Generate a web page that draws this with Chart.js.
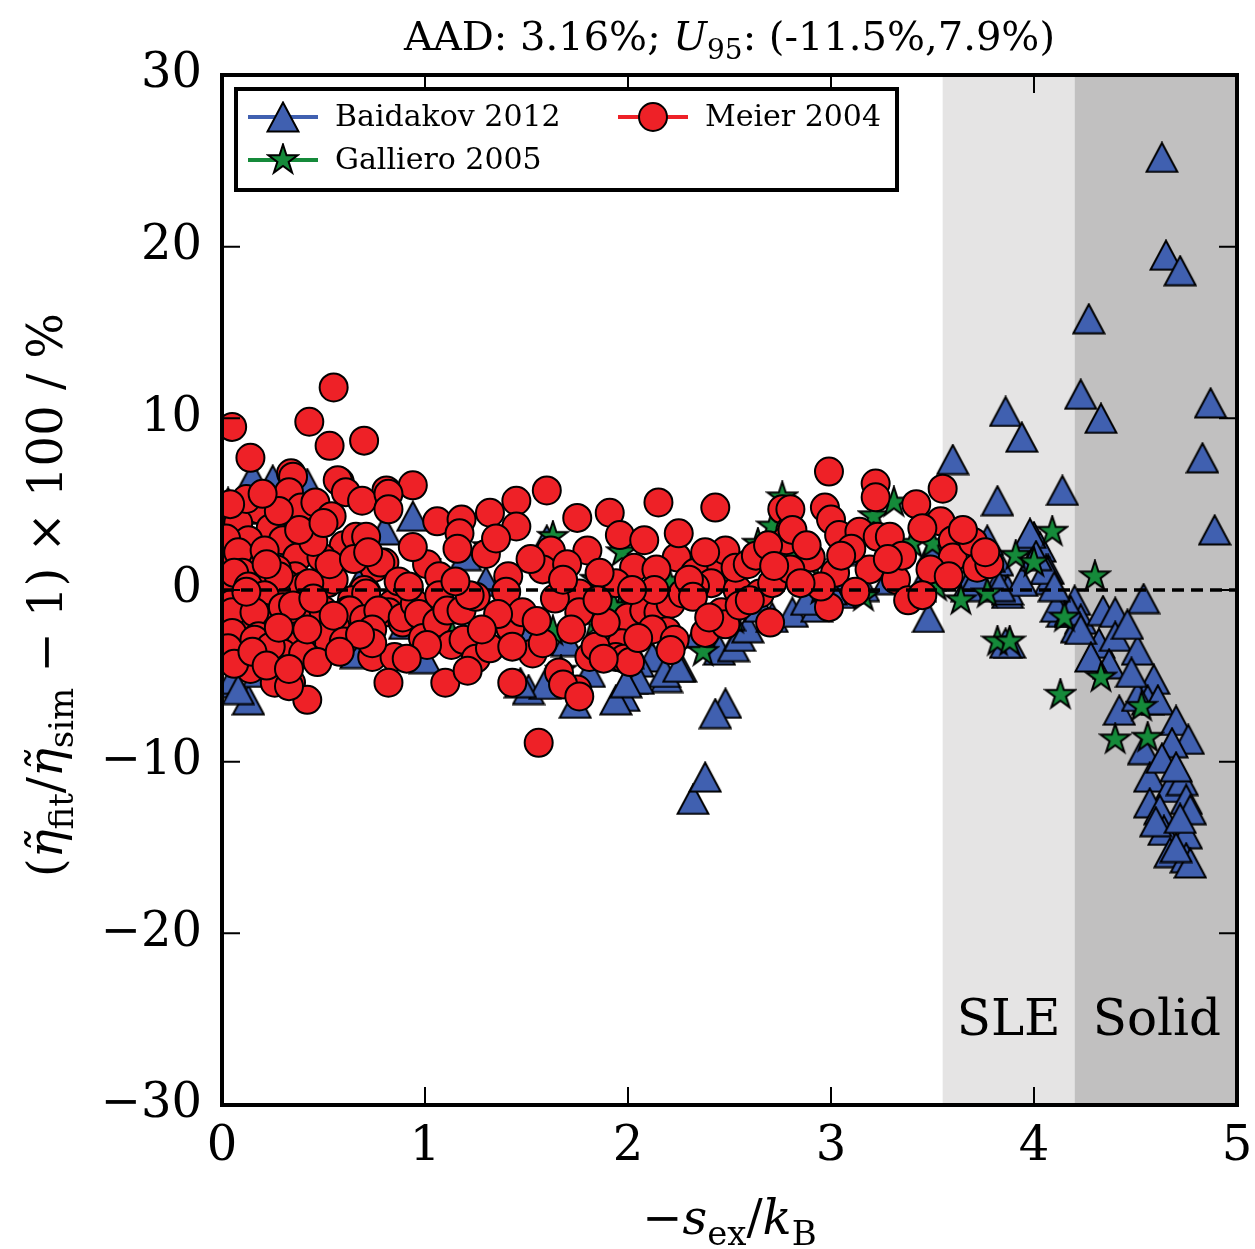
<!DOCTYPE html>
<html>
<head>
<meta charset="utf-8">
<script src="https://cdn.jsdelivr.net/npm/chart.js@4.4.0/dist/chart.umd.min.js"></script>
<style>
  html, body { margin: 0; padding: 0; background: #fff; }
  canvas { display: block; }
</style>
</head>
<body>
<canvas id="chart" width="1255" height="1249"></canvas>
<script>
const FONT = '"DejaVu Serif", "Liberation Serif", serif';

const xTicks = [0, 1, 2, 3, 4, 5];
const yTicks = [-30, -20, -10, 0, 10, 20, 30];

// shaded phase regions [from, to]
const sleRange = [3.55, 4.2];
const solidRange = [4.2, 5.0];

const seriesNames = ["Baidakov 2012", "Galliero 2005", "Meier 2004"];
const seriesColors = ["#4060b0", "#158a3a", "#ee2127"];

const baidakov = [
  [4.63, 25.2], [4.65, 19.5], [4.72, 18.6], [4.27, 15.8], [4.23, 11.4], [4.33, 10.0],
  [4.87, 10.9], [4.83, 7.7], [4.89, 3.5], [3.86, 10.4], [3.94, 8.9], [3.60, 7.6],
  [3.82, 5.2], [4.14, 5.8], [4.54, -0.5],
  [4.20, -0.6], [4.14, -1.3], [4.23, -1.7], [4.34, -1.2], [4.40, -1.3], [4.32, -3.1],
  [4.40, -2.7], [4.51, -3.5], [4.37, -4.3], [4.59, -5.2], [4.42, -7.0], [4.56, -6.4],
  [4.51, -6.2], [4.61, -6.4], [4.70, -7.6], [4.76, -8.7], [4.68, -8.9], [4.54, -9.3],
  [4.57, -10.9], [4.67, -11.5], [4.73, -11.1], [4.75, -12.2], [4.57, -12.4], [4.62, -12.8],
  [4.77, -12.8], [4.64, -14.0], [4.75, -14.2], [4.67, -15.3], [4.75, -15.6], [4.77, -15.9],
  [4.70, -15.0], [4.46, -2.0], [4.48, -4.8], [4.63, -9.8], [4.70, -10.3], [4.60, -13.5],
  [4.72, -13.3],
  [4.00, 3.1], [3.97, 2.9], [4.03, 2.5], [4.07, 1.2], [4.08, 0.6], [4.11, -1.0],
  [4.18, -1.3], [4.21, -2.2], [3.83, 0.6], [3.87, -0.2], [3.88, -3.1], [3.82, 1.7],
  [3.77, 2.9], [3.98, 3.3], [4.06, 1.2], [3.87, 0.0], [3.67, 0.2], [3.48, -1.6],
  [3.86, -3.1], [4.18, -1.2], [4.23, -2.3], [4.28, -3.9], [4.10, 0.2], [3.94, 0.5],
  [3.72, 0.8], [4.01, 2.0],
  [2.48, -6.6], [2.43, -7.2], [2.32, -12.2], [2.38, -10.9], [1.98, -6.2], [2.02, -5.2],
  [2.19, -5.1], [2.26, -4.5], [2.45, -3.5], [2.52, -3.3], [2.55, -2.7], [2.59, -2.2],
  [2.71, -1.6], [2.81, -1.3], [2.93, -1.0], [3.04, -0.2], [3.16, 0.2], [3.28, 0.6],
  [3.44, 0.2], [3.49, 0.8], [3.11, 2.3], [3.50, 2.3], [3.78, 1.9], [3.83, 0.2],
  [3.00, 0.0], [2.88, -0.6], [2.65, -1.0], [2.50, -1.5], [2.35, -2.5], [2.12, -3.9],
  [2.05, -4.2], [1.94, -6.4], [2.18, -4.8], [2.25, -4.5], [2.05, -5.2], [1.99, -5.4],
  [1.74, -6.6], [1.51, -5.8], [1.81, -4.8], [2.00, -3.7], [1.59, -5.5], [1.47, -5.4],
  [0.15, 6.6], [0.03, 5.1], [0.13, 4.7], [0.94, 4.3], [0.66, -3.7], [0.06, -5.4],
  [0.13, -6.4], [0.18, -4.8], [0.31, -4.3], [0.42, 6.2], [0.25, 6.4], [0.05, -5.2],
  [0.08, -5.8], [0.04, 3.0], [0.10, 1.5], [0.20, -0.5], [0.30, 2.0], [0.50, -1.5],
  [0.70, 1.0], [0.90, -2.0], [1.10, -1.0], [1.30, 0.5], [1.50, -2.5], [1.70, -3.0],
  [1.90, -2.0], [1.60, 2.9], [1.20, 2.0], [0.80, 3.5], [1.00, -4.0],
];

const galliero = [
  [1.31, 2.5], [1.63, 3.1], [1.84, 0.6], [1.96, -1.2], [1.84, -1.9], [1.13, -2.5],
  [1.63, -2.4], [1.67, -4.7], [1.93, -1.0], [2.08, -2.5], [2.37, -3.6], [2.52, -1.7],
  [1.97, 2.2], [2.64, 2.7], [2.71, 3.7], [2.76, 5.4], [2.80, 2.3], [2.95, 0.0],
  [3.16, -0.4], [3.21, 4.3], [3.31, 5.1], [3.40, 2.7], [3.50, 2.7], [3.52, 0.2],
  [3.64, -0.6], [3.77, -0.2], [3.82, -3.0], [3.88, -3.0], [3.91, 2.0], [4.00, 1.6],
  [4.09, 3.4], [4.13, -6.1], [4.15, -1.6], [4.30, 0.8], [4.33, -5.1], [4.40, -8.7],
  [4.53, -6.8], [4.56, -8.6], [0.50, 0.5], [0.80, -1.0], [1.00, 1.5], [0.30, -2.0],
  [1.40, -1.5], [2.20, 0.5], [2.90, 1.5],
];

const meier = [
  [0.05, 9.5], [0.14, 7.7], [0.55, 11.8], [0.43, 9.8], [0.53, 8.4], [0.70, 8.7],
  [0.34, 6.8], [0.35, 6.6], [0.58, 6.3], [0.57, 6.4], [0.94, 6.1], [0.81, 5.8],
  [0.33, 5.7], [0.61, 5.7], [0.69, 5.2], [0.82, 5.6], [0.82, 4.7], [0.39, 4.8],
  [0.46, 5.1], [0.54, 4.3], [0.25, 3.7], [0.18, 4.7], [0.06, 4.1], [0.08, 3.9],
  [0.24, 3.6], [0.13, 2.9], [0.30, 2.9], [0.37, 1.9], [0.16, 1.6], [0.03, 1.9],
  [0.02, 3.0], [0.08, 2.2], [0.21, 2.3], [0.60, 2.6], [0.06, 0.4], [0.23, 0.4],
  [0.36, 0.8], [0.49, 1.9], [0.66, 3.1], [0.71, 3.1], [0.75, 1.3], [0.80, 1.6],
  [0.78, 1.6], [0.70, 0.0], [0.64, -0.6], [0.52, 0.4], [0.44, 0.2], [0.31, 0.4],
  [0.26, -0.6], [0.11, -0.8], [0.05, -0.8], [0.18, -0.6], [0.10, 1.0], [0.27, 1.2],
  [0.33, -0.3], [0.40, 0.2], [0.55, 0.6], [0.53, 1.5], [0.43, 0.4], [0.28, 0.8],
  [0.06, 1.0], [0.13, 0.2], [0.21, -0.3], [0.71, -0.2], [1.01, 1.5], [0.84, -0.8],
  [0.11, -1.9], [0.30, -1.2], [0.37, -1.9], [0.51, -2.2], [0.62, -1.2], [0.82, -1.3],
  [0.89, -1.9], [0.47, -1.0], [0.58, -2.0], [0.20, -1.6], [0.05, -1.3], [0.16, -1.3],
  [0.30, -1.0], [0.40, -1.6], [0.50, -1.2], [0.63, -1.2], [0.56, -2.2], [0.70, -1.7],
  [0.77, -1.2], [0.89, -1.6], [0.05, -2.5], [0.18, -2.7], [0.37, -2.7], [0.74, -2.3],
  [0.16, -2.9], [0.39, -2.8], [0.50, -2.6], [0.51, -2.7], [0.39, -3.1], [0.74, -3.9],
  [0.85, -3.9], [0.06, -4.1], [0.13, -3.9], [0.30, -3.7], [0.24, -3.3], [0.03, -3.4],
  [0.14, -4.6], [0.06, -4.3], [0.40, -3.7], [0.74, -3.1], [0.34, -5.4], [0.26, -5.4],
  [0.42, -6.4], [0.82, -5.4], [0.33, -5.6],
  [0.12, -0.1], [0.22, 1.5], [0.35, -0.9], [0.45, -0.5], [0.28, -2.2], [0.42, -2.3],
  [0.55, -1.5], [0.65, 1.8], [0.72, 2.2], [0.87, 0.5], [0.95, -0.8], [0.60, -3.0],
  [0.68, -2.6], [0.45, 2.8], [0.38, 3.5], [0.50, 3.9], [0.15, -3.6], [0.22, -4.4],
  [0.33, -4.6], [0.47, -4.2], [0.58, -3.6], [0.28, 4.6], [0.12, 5.3], [0.04, 5.0],
  [0.20, 5.6], [0.92, 0.2], [0.97, -1.4],
  [1.06, 4.0], [1.18, 4.1], [1.32, 4.5], [1.45, 5.2], [1.60, 5.8], [1.45, 3.7],
  [1.17, 3.3], [1.16, 2.4], [1.75, 4.2], [1.91, 4.5], [2.15, 5.1], [2.43, 4.8],
  [1.62, 2.3], [1.58, 1.2], [1.80, 2.3], [1.96, 3.2], [2.08, 2.9], [2.03, 1.3],
  [2.24, 1.9], [2.14, 1.2], [2.33, 1.0], [2.46, 1.3], [2.48, 2.3], [2.41, 0.4],
  [2.33, 0.2], [1.94, 0.4], [1.76, -0.2], [1.41, 0.8], [1.40, -0.1], [1.07, 0.8],
  [0.94, 2.5], [1.07, -0.3], [0.99, -2.8], [1.06, -1.9], [1.11, -1.2], [1.18, -1.2],
  [1.25, -0.4], [1.13, -3.2], [1.19, -2.9], [1.25, -4.0], [1.32, -3.4], [1.42, -2.2],
  [1.48, -1.3], [1.64, -0.5], [1.76, -1.3], [1.72, -2.3], [1.81, -3.9], [1.66, -4.8],
  [1.75, -5.8], [1.53, -3.7], [1.58, -3.1], [1.43, -3.3], [1.93, -2.3], [2.00, -1.6],
  [2.08, -1.2], [2.15, -1.3], [2.21, -0.8], [2.27, -0.2], [2.13, 0.0], [2.02, 0.0],
  [2.30, 0.6], [2.19, -2.4], [2.12, -2.3], [1.97, -3.1], [1.94, -3.9], [1.84, -3.3],
  [2.23, -2.9], [2.38, -2.5], [2.46, -1.3], [2.54, 0.0], [2.53, 1.3], [2.32, -0.4],
  [1.01, -3.2], [0.91, -4.0], [1.10, -5.4], [1.21, -4.7], [1.43, -5.4], [1.68, -5.5],
  [1.76, -6.2], [1.56, -8.9], [2.21, -3.5], [1.98, -4.0], [2.01, -4.2], [1.88, -4.0],
  [2.70, -1.9], [2.65, -0.2], [2.71, 0.4], [2.76, 4.7], [2.80, 3.5], [2.78, 2.9],
  [2.59, 1.5], [2.63, 2.0], [2.48, -2.0], [2.55, -0.9], [1.30, 2.1], [1.22, -0.3],
  [1.36, -1.4], [1.52, 1.8], [1.70, 1.5], [1.86, 1.0], [1.89, -1.9], [2.25, 3.3],
  [2.38, 2.2], [1.15, 0.5], [1.28, -2.3], [1.35, 3.0], [1.55, -1.8], [1.68, 0.6],
  [1.85, -0.6], [2.05, -2.8], [2.40, -1.6], [2.60, -0.6],
  [2.99, 6.9], [3.22, 6.2], [3.22, 5.4], [2.97, 4.8], [3.00, 4.1], [2.80, 4.7],
  [3.55, 5.9], [3.42, 5.0], [3.54, 4.0], [3.45, 3.6], [3.04, 3.2], [3.14, 3.4],
  [3.23, 3.1], [3.29, 3.1], [3.60, 2.9], [3.60, 1.9], [3.70, 2.8], [3.72, 1.3],
  [3.49, 1.2], [2.90, 1.9], [3.02, 1.0], [3.19, 1.2], [3.32, 0.6], [3.38, -0.6],
  [2.99, -1.0], [2.81, 3.5], [2.80, 1.2], [2.88, 2.6], [3.10, 2.4], [3.35, 2.0],
  [3.65, 3.5], [3.78, 1.5], [3.76, 2.2], [2.95, 0.2], [3.12, -0.1], [2.69, 2.6],
  [2.72, 1.4], [2.85, 0.4], [3.05, 2.0], [3.28, 1.8], [3.45, -0.3], [3.58, 0.8],
];

// dashed reference line at zero deviation
const zeroLine = [[0, 0], [5, 0]];

const toPoints = (arr) => arr.map(([x, y]) => ({ x, y }));
const fmtMinus = (v) => (v < 0 ? "\u2212" + Math.abs(v) : String(v));

function makeTriangle(color) {
  const c = document.createElement("canvas");
  c.width = 34;
  c.height = 32;
  const g = c.getContext("2d");
  g.beginPath();
  g.moveTo(17, 1.5);
  g.lineTo(32.5, 30.5);
  g.lineTo(1.5, 30.5);
  g.closePath();
  g.fillStyle = color;
  g.fill();
  g.lineWidth = 2;
  g.strokeStyle = "#000";
  g.stroke();
  return c;
}

function makeStar(color) {
  const c = document.createElement("canvas");
  c.width = 34;
  c.height = 34;
  const g = c.getContext("2d");
  const R = 15.5;
  const r = R * 0.382;
  g.beginPath();
  for (let k = 0; k < 10; k++) {
    const a = -Math.PI / 2 + (k * Math.PI) / 5;
    const rad = k % 2 === 0 ? R : r;
    const px = 17 + rad * Math.cos(a);
    const py = 17 + rad * Math.sin(a);
    if (k === 0) g.moveTo(px, py);
    else g.lineTo(px, py);
  }
  g.closePath();
  g.fillStyle = color;
  g.fill();
  g.lineWidth = 2;
  g.strokeStyle = "#000";
  g.stroke();
  return c;
}

const triangleImg = makeTriangle(seriesColors[0]);
const starImg = makeStar(seriesColors[1]);

// draws text made of pieces (italic / subscript) centred on x
function drawRich(ctx, parts, size, x, y) {
  const fontOf = (p) =>
    `${p.it ? "italic " : ""}${p.sub ? Math.round(size * 0.7) : size}px ${FONT}`;
  let total = 0;
  parts.forEach((p) => {
    ctx.font = fontOf(p);
    total += ctx.measureText(p.t).width;
  });
  let cx = x - total / 2;
  ctx.textAlign = "left";
  ctx.textBaseline = "alphabetic";
  ctx.fillStyle = "#000";
  parts.forEach((p) => {
    ctx.font = fontOf(p);
    ctx.fillText(p.t, cx, y + (p.sub ? size * 0.22 : 0));
    cx += ctx.measureText(p.t).width;
  });
}

const titleParts = [
  { t: "AAD: 3.16%; " },
  { t: "U", it: true },
  { t: "95", sub: true },
  { t: ": (-11.5%,7.9%)" },
];
const xLabelParts = [
  { t: "\u2212" },
  { t: "s", it: true },
  { t: "ex", sub: true },
  { t: "/" },
  { t: "k", it: true },
  { t: "B", sub: true },
];
const yLabelParts = [
  { t: "(" },
  { t: "\u03b7\u0303", it: true },
  { t: "fit", sub: true },
  { t: "/" },
  { t: "\u03b7\u0303", it: true },
  { t: "sim", sub: true },
  { t: " \u2212 1) \u00d7 100 / %" },
];

const regionsPlugin = {
  id: "regions",
  beforeDatasetsDraw(chart) {
    const { ctx, chartArea, scales } = chart;
    const x = scales.x;
    ctx.save();
    ctx.fillStyle = "#e5e4e4";
    const a = x.getPixelForValue(sleRange[0]);
    const b = x.getPixelForValue(sleRange[1]);
    ctx.fillRect(a, chartArea.top, b - a, chartArea.bottom - chartArea.top);
    ctx.fillStyle = "#c1c0c0";
    const c = x.getPixelForValue(solidRange[0]);
    const d = x.getPixelForValue(solidRange[1]);
    ctx.fillRect(c, chartArea.top, d - c, chartArea.bottom - chartArea.top);

    ctx.fillStyle = "#000";
    ctx.font = `50px ${FONT}`;
    ctx.textAlign = "right";
    ctx.textBaseline = "alphabetic";
    ctx.fillText("SLE", b - 14, chartArea.bottom - 70);
    ctx.fillText("Solid", d - 16, chartArea.bottom - 70);
    ctx.restore();
  },
};

const frameTicksPlugin = {
  id: "frameTicks",
  afterDatasetsDraw(chart) {
    const { ctx, chartArea, scales } = chart;
    const len = 18;
    ctx.save();
    ctx.strokeStyle = "#000";
    ctx.lineWidth = 2;
    ctx.beginPath();
    xTicks.forEach((v) => {
      const px = scales.x.getPixelForValue(v);
      ctx.moveTo(px, chartArea.bottom);
      ctx.lineTo(px, chartArea.bottom - len);
      ctx.moveTo(px, chartArea.top);
      ctx.lineTo(px, chartArea.top + len);
    });
    yTicks.forEach((v) => {
      const py = scales.y.getPixelForValue(v);
      ctx.moveTo(chartArea.left, py);
      ctx.lineTo(chartArea.left + len, py);
      ctx.moveTo(chartArea.right, py);
      ctx.lineTo(chartArea.right - len, py);
    });
    ctx.stroke();
    ctx.lineWidth = 4;
    ctx.strokeRect(
      chartArea.left,
      chartArea.top,
      chartArea.right - chartArea.left,
      chartArea.bottom - chartArea.top
    );
    ctx.restore();
  },
};

const legendPlugin = {
  id: "boxLegend",
  afterDraw(chart) {
    const { ctx } = chart;
    ctx.save();
    ctx.fillStyle = "#fff";
    ctx.fillRect(236, 89, 661, 101);
    ctx.lineWidth = 4;
    ctx.strokeStyle = "#000";
    ctx.strokeRect(236, 89, 661, 101);

    const entries = [
      { name: seriesNames[0], color: seriesColors[0], x: 248, y: 117, img: triangleImg },
      { name: seriesNames[1], color: seriesColors[1], x: 248, y: 160, img: starImg },
      { name: seriesNames[2], color: seriesColors[2], x: 618, y: 117, img: null },
    ];
    entries.forEach((e) => {
      ctx.strokeStyle = e.color;
      ctx.lineWidth = 4;
      ctx.beginPath();
      ctx.moveTo(e.x, e.y);
      ctx.lineTo(e.x + 70, e.y);
      ctx.stroke();
      const mx = e.x + 35;
      if (e.img) {
        ctx.drawImage(e.img, mx - e.img.width / 2, e.y - e.img.height / 2);
      } else {
        ctx.beginPath();
        ctx.arc(mx, e.y, 14, 0, Math.PI * 2);
        ctx.fillStyle = e.color;
        ctx.fill();
        ctx.lineWidth = 2;
        ctx.strokeStyle = "#000";
        ctx.stroke();
      }
      ctx.fillStyle = "#000";
      ctx.font = `30px ${FONT}`;
      ctx.textAlign = "left";
      ctx.textBaseline = "middle";
      ctx.fillText(e.name, e.x + 87, e.y + 1);
    });
    ctx.restore();
  },
};

const labelsPlugin = {
  id: "richLabels",
  afterDraw(chart) {
    const { ctx, chartArea } = chart;
    const midX = (chartArea.left + chartArea.right) / 2;
    const midY = (chartArea.top + chartArea.bottom) / 2;
    ctx.save();
    drawRich(ctx, titleParts, 40, midX, 50);
    drawRich(ctx, xLabelParts, 48, midX, 1234);
    ctx.translate(62, midY + 5);
    ctx.rotate(-Math.PI / 2);
    drawRich(ctx, yLabelParts, 48, 0, 0);
    ctx.restore();
  },
};

const tickFont = { family: FONT, size: 48 };

new Chart(document.getElementById("chart"), {
  type: "scatter",
  data: {
    datasets: [
      {
        label: "zero",
        type: "line",
        data: toPoints(zeroLine),
        borderColor: "#000",
        borderWidth: 3.5,
        borderDash: [12, 7],
        pointRadius: 0,
        fill: false,
        order: 0,
        clip: 0,
      },
      {
        label: seriesNames[2],
        data: toPoints(meier),
        pointStyle: "circle",
        pointRadius: 14,
        pointBorderWidth: 2,
        backgroundColor: seriesColors[2],
        borderColor: "#000",
        order: 1,
        clip: 0,
      },
      {
        label: seriesNames[1],
        data: toPoints(galliero),
        pointStyle: starImg,
        pointRadius: 16,
        backgroundColor: seriesColors[1],
        borderColor: "#000",
        order: 2,
        clip: 0,
      },
      {
        label: seriesNames[0],
        data: toPoints(baidakov),
        pointStyle: triangleImg,
        pointRadius: 16,
        backgroundColor: seriesColors[0],
        borderColor: "#000",
        order: 3,
        clip: 0,
      },
    ],
  },
  options: {
    responsive: false,
    animation: false,
    events: [],
    layout: { padding: { top: 75, right: 18, left: 0, bottom: 0 } },
    plugins: {
      legend: { display: false },
      tooltip: { enabled: false },
    },
    scales: {
      x: {
        type: "linear",
        min: 0,
        max: 5,
        afterBuildTicks: (scale) => {
          scale.ticks = xTicks.map((v) => ({ value: v }));
        },
        ticks: { font: tickFont, color: "#000", padding: 14, maxRotation: 0, callback: fmtMinus },
        grid: { display: false, drawTicks: false },
        border: { display: false },
        afterFit: (scale) => {
          scale.height = 144;
          scale.paddingLeft = 0;
          scale.paddingRight = 0;
        },
      },
      y: {
        type: "linear",
        min: -30,
        max: 30,
        afterBuildTicks: (scale) => {
          scale.ticks = yTicks.map((v) => ({ value: v }));
        },
        ticks: { font: tickFont, color: "#000", padding: 20, callback: fmtMinus },
        grid: { display: false, drawTicks: false },
        border: { display: false },
        afterFit: (scale) => {
          scale.width = 222;
          scale.paddingTop = 0;
          scale.paddingBottom = 0;
        },
      },
    },
  },
  plugins: [regionsPlugin, frameTicksPlugin, legendPlugin, labelsPlugin],
});
</script>
</body>
</html>
